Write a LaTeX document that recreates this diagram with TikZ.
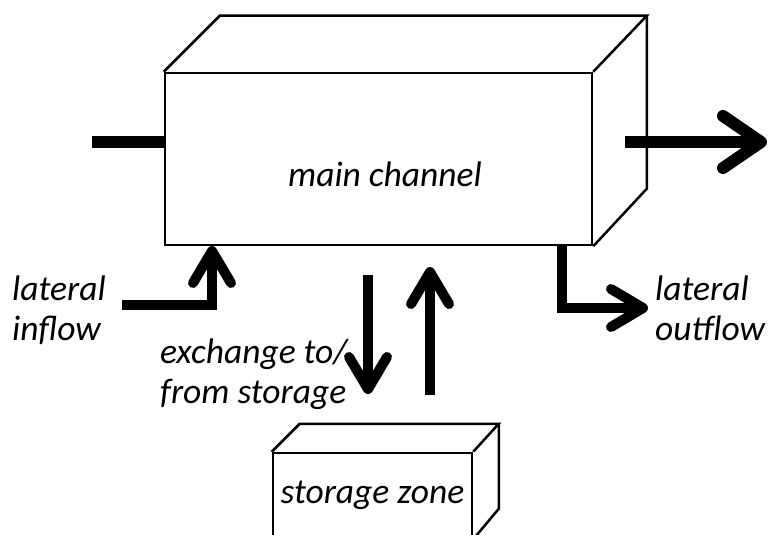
\documentclass[tikz,border=0pt]{standalone}
\usepackage{fontspec}
\setmainfont{Carlito}
\usetikzlibrary{arrows.meta}
\begin{document}
\begin{tikzpicture}[x=1pt,y=-1pt,
  edge/.style={line width=2.5pt, line join=miter},
  face/.style={draw, line width=2.5pt, fill=white, inner sep=0pt},
  txt/.style={font=\fontsize{35.5}{40}\selectfont\itshape, inner sep=0pt, align=left},
  flowbig/.style={line width=12pt, line cap=butt, line join=miter,
    -{Straight Barb[length=38pt,width=52pt,round]}},
  flowmid/.style={line width=10pt, line cap=butt, line join=miter,
    -{Straight Barb[length=32pt,width=38pt,round]}},
  shaft/.style={line width=12pt, line cap=butt}
]
\path[use as bounding box] (0,0) rectangle (768,535);
\clip (0,0) rectangle (768,535);

% main channel: front face, top face, side face
\node[face, minimum width=427pt, minimum height=172pt] (main) at (378.5,159) {};
\draw[edge] (main.north west) -- ++(56,-56) -- ++(427,0) coordinate (mbr) -- (main.north east);
\draw[edge] (mbr) -- ++(0,173) -- (main.south east);
\node[txt] (mainlbl) at (385,174) {main channel};

% storage zone box
\node[face, minimum width=199pt, minimum height=85pt, txt] (store) at (372.5,495.5) {storage zone};
\draw[edge] (store.north west) -- ++(28,-28) -- ++(199,0) coordinate (sbr) -- (store.north east);
\draw[edge] (sbr) -- ++(0,85) -- (store.south east);

% upstream inflow and downstream outflow
\coordinate (inL) at (92,142);
\draw[shaft] (inL) -- (inL -| main.west);
\coordinate (outS) at (625,142);
\coordinate (outE) at (767,142);
\draw[flowbig] (outS) -- (outE);

% lateral inflow
\coordinate (latS) at (122,305);
\coordinate (latT) at (212,246);
\draw[flowmid] (latS) -| (latT);
\node[txt, anchor=base west] (inlbl) at (12,340) {lateral\\inflow};

% lateral outflow
\coordinate (loS) at (562,246);
\coordinate (loT) at (648,308);
\draw[flowmid] (loS) |- (loT);
\node[txt, anchor=base west] (outlbl) at (655,340) {lateral\\outflow};

% exchange with storage
\coordinate (dnS) at (368,275);
\coordinate (dnE) at (368,394);
\draw[flowmid] (dnS) -- (dnE);
\coordinate (upS) at (430,395);
\coordinate (upE) at (430,267);
\draw[flowmid] (upS) -- (upE);
\node[txt, anchor=base west] (exlbl) at (160,403) {exchange to/\\from storage};
\end{tikzpicture}
\end{document}
